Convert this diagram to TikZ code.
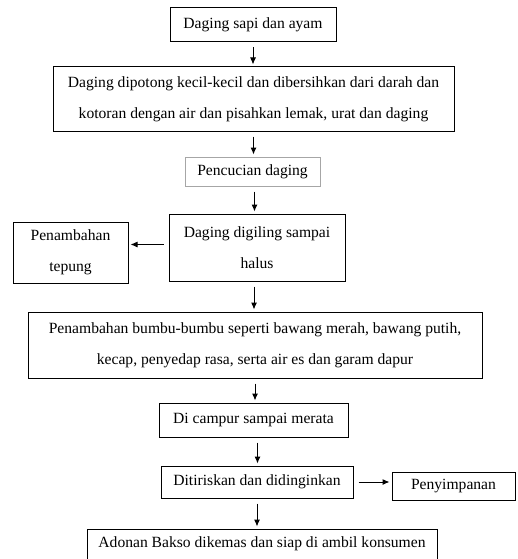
\documentclass[tikz,border=0pt]{standalone}
\usepackage{fontspec}
\setmainfont{Liberation Serif}
\usepackage{tikz}
\usetikzlibrary{arrows.meta,calc}

\begin{document}
\begin{tikzpicture}[x=1pt,y=-1pt,
    box/.style={draw,line width=1pt,inner sep=0pt,align=center,
        font=\fontsize{15.6}{31}\selectfont},
    arr/.style={-{Latex[length=7pt,width=6pt]},line width=1pt,
        shorten <=5pt,shorten >=2pt}]
    % Keep the page the size of the reference
    \useasboundingbox (0,0) rectangle (517,559);

    % Main column of steps
    \node[box,minimum width=166,minimum height=34] (daging) at (253,25) {Daging sapi dan ayam};
    \node[box,minimum width=401,minimum height=64] (potong) at (253.5,99)
        {Daging dipotong kecil-kecil dan dibersihkan dari darah dan\\kotoran dengan air dan pisahkan lemak, urat dan daging};
    \node[box,draw=gray!70,minimum width=135,minimum height=29] (cuci) at (252.5,171.5) {Pencucian daging};
    \node[box,minimum width=176,minimum height=67] (giling) at (257,247.5) {Daging digiling sampai\\halus};
    \node[box,minimum width=454,minimum height=66] (bumbu) at (255,345)
        {Penambahan bumbu-bumbu seperti bawang merah, bawang putih,\\kecap, penyedap rasa, serta air es dan garam dapur};
    \node[box,minimum width=189,minimum height=34] (campur) at (253.5,420) {Di campur sampai merata};
    \node[box,minimum width=192,minimum height=32] (tiris) at (257,482) {Ditiriskan dan didinginkan};
    \node[box,minimum width=350,minimum height=30] (adonan) at (262,544) {Adonan Bakso dikemas dan siap di ambil konsumen};

    % Side boxes
    \node[box,minimum width=115,minimum height=61] (tepung) at (70.5,252.5) {Penambahan\\tepung};
    \node[box,minimum width=123,minimum height=28] (simpan) at (453.5,486) {Penyimpanan};

    % Arrows down the column
    \draw[arr] (daging.south) -- (daging.south |- potong.north);
    \draw[arr] (potong.south) -- (potong.south |- cuci.north);
    \draw[arr] ([xshift=2pt]cuci.south) -- ([xshift=2pt]cuci.south |- giling.north);
    \draw[arr] ([xshift=-3pt]giling.south) -- ([xshift=-3pt]giling.south |- bumbu.north);
    \draw[arr] (bumbu.south) -- (bumbu.south |- campur.north);
    \draw[arr] ([xshift=4pt]campur.south) -- ([xshift=4pt]campur.south |- tiris.north);
    \draw[arr] (tiris.south) -- (tiris.south |- adonan.north);

    % Arrows to the side boxes
    \draw[arr] ([yshift=3pt]giling.west) -- ([yshift=3pt]giling.west -| tepung.east);
    \draw[arr] (tiris.east) -- (tiris.east -| simpan.west);
\end{tikzpicture}
\end{document}
